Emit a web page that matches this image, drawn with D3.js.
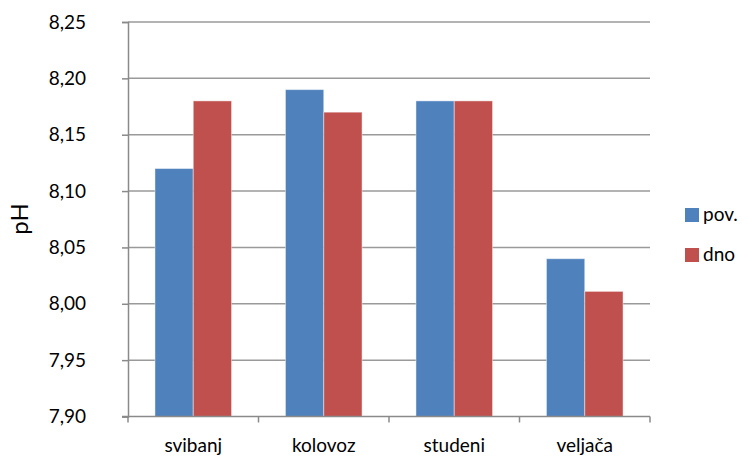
<!DOCTYPE html>
<html><head><meta charset="utf-8">
<script src="https://cdn.jsdelivr.net/npm/d3@7"></script>
<style>body{margin:0;background:#fff}svg{display:block}text{font-family:Lato,"Open Sans",sans-serif;fill:#000}</style>
</head><body><svg id="c" width="742" height="457"></svg>
<script>
const categories = ["svibanj", "kolovoz", "studeni", "veljača"];
const seriesNames = ["pov.", "dno"];
const povValues = [8.12, 8.19, 8.18, 8.04];
const dnoValues = [8.18, 8.17, 8.18, 8.011];
const yTicks = [7.90, 7.95, 8.00, 8.05, 8.10, 8.15, 8.20, 8.25];
const colors = ["#4F81BD", "#C0504D"];
const yLabel = "pH";

const svg = d3.select("#c");
const L = 128, R = 650, T = 22, B = 416.5;
const x = d3.scaleBand().domain(categories).range([L, R]).paddingInner(0).paddingOuter(0);
const y = d3.scaleLinear().domain([7.90, 8.25]).range([B, T]);
const fmt = d => d.toFixed(2).replace(".", ",");

// gridlines
svg.append("g").selectAll("line").data(yTicks.slice(1)).join("line")
  .attr("x1", L).attr("x2", R).attr("y1", d => y(d)).attr("y2", d => y(d))
  .attr("stroke", "#9a9a9a").attr("stroke-width", 1.5);

// bars
const bandW = x.bandwidth();
const barW = 38.3;
const series = [povValues, dnoValues];
series.forEach((vals, si) => {
  svg.append("g").selectAll("rect").data(categories).join("rect")
    .attr("x", (c) => x(c) + bandW / 2 - barW + si * barW)
    .attr("y", (c, i) => y(vals[i]))
    .attr("width", barW)
    .attr("height", (c, i) => y(7.90) - y(vals[i]))
    .attr("fill", colors[si])
    .attr("stroke", "rgba(255,255,255,0.45)").attr("stroke-width", 1);
});

// y axis
const yAxis = svg.append("g").attr("transform", `translate(${L},0)`)
  .call(d3.axisLeft(y).tickValues(yTicks).tickFormat(fmt).tickSize(6).tickPadding(36));
yAxis.select(".domain").attr("stroke", "#8a8a8a").attr("stroke-width", 1.5);
yAxis.selectAll(".tick line").attr("stroke", "#8a8a8a").attr("stroke-width", 1.5);
yAxis.selectAll(".tick text").attr("font-size", 19).attr("font-family", "Lato").attr("fill", "#000");

// x axis
const xAxis = svg.append("g").attr("transform", `translate(0,${B})`)
  .call(d3.axisBottom(x).tickSize(0).tickPadding(22));
xAxis.select(".domain").remove();
xAxis.selectAll(".tick text").attr("font-size", 19).attr("font-family", "Lato").attr("fill", "#000");
svg.append("line").attr("x1", L - 6).attr("x2", R).attr("y1", B).attr("y2", B)
  .attr("stroke", "#8a8a8a").attr("stroke-width", 1.5);
const edges = categories.map(c => x(c)).concat([R]);
svg.append("g").selectAll("line").data(edges).join("line")
  .attr("x1", d => d).attr("x2", d => d).attr("y1", B).attr("y2", B + 6)
  .attr("stroke", "#8a8a8a").attr("stroke-width", 1.5);

// y label
svg.append("text").attr("transform", "translate(28,219) rotate(-90)")
  .attr("text-anchor", "middle").attr("font-size", 24).text(yLabel);

// legend
const leg = svg.append("g").selectAll("g").data(seriesNames).join("g")
  .attr("transform", (d, i) => `translate(685,${208 + i * 40})`);
leg.append("rect").attr("width", 14).attr("height", 14).attr("fill", (d, i) => colors[i]);
leg.append("text").attr("x", 18).attr("y", 13).attr("font-size", 19).text(d => d);
</script></body></html>
